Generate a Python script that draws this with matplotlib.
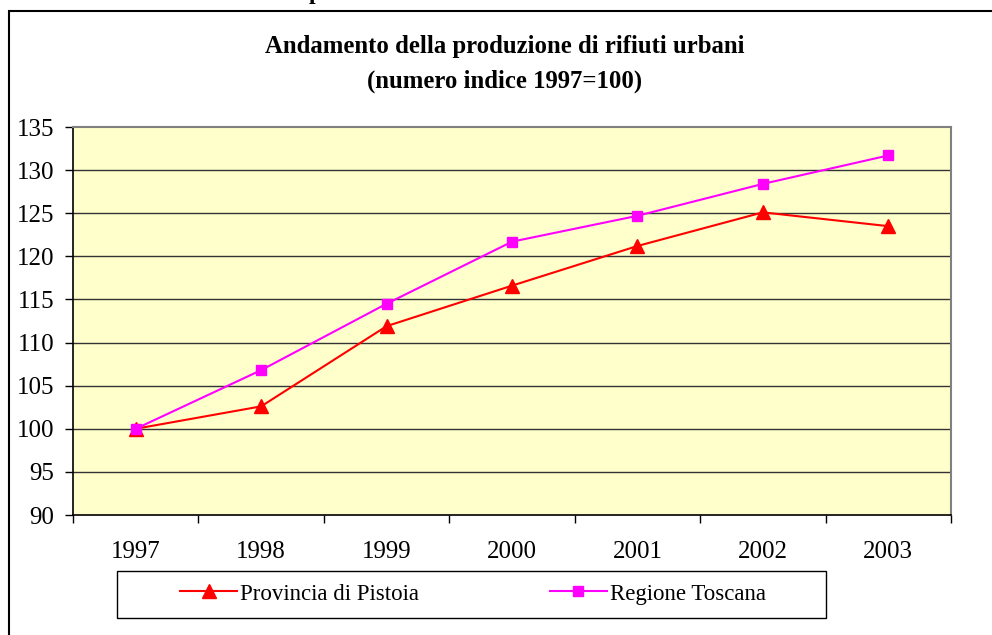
import matplotlib.pyplot as plt
from matplotlib.patches import Rectangle

anni = ["1997", "1998", "1999", "2000", "2001", "2002", "2003"]
pistoia = [100.0, 102.6, 111.9, 116.6, 121.2, 125.1, 123.5]
toscana = [100.0, 106.8, 114.5, 121.7, 124.7, 128.4, 131.7]
y_ticks = [90, 95, 100, 105, 110, 115, 120, 125, 130, 135]

plt.rcParams['font.family'] = ['Liberation Serif', 'DejaVu Serif']

W, H = 992, 635
fig = plt.figure(figsize=(W / 100, H / 100), dpi=100)
fig.patch.set_facecolor('white')

# cornice esterna (continua oltre i bordi destro e inferiore)
fig.patches.append(Rectangle((9 / W, -0.05), 1.1, 1 - 11 / H + 0.05,
                             transform=fig.transFigure, fill=False,
                             edgecolor='black', linewidth=1.5))

# frammento di testo tagliato in alto
fig.text(315 / W, 1 + 1 / H, "p", ha='center', va='baseline',
         fontsize=17, fontweight='bold')

fig.text(505 / W, 1 - 47 / H, "Andamento della produzione di rifiuti urbani",
         ha='center', va='center', fontsize=17.8, fontweight='bold')
fig.text(505 / W, 1 - 81 / H, "(numero indice 1997=100)",
         ha='center', va='center', fontsize=17.8, fontweight='bold')

ax = fig.add_axes([73 / W, 1 - 515 / H, (951 - 73) / W, (515 - 127) / H])
ax.set_facecolor('#FFFFCC')

x = list(range(len(anni)))
ax.plot(x, pistoia, color='#FF0000', linewidth=1.5, marker='^',
        markersize=10, label='Provincia di Pistoia', zorder=3)
ax.plot(x, toscana, color='#FF00FF', linewidth=1.5, marker='s',
        markersize=6.5, label='Regione Toscana', zorder=3)

ax.set_xlim(-0.5, len(anni) - 0.5)
ax.set_ylim(90, 135)
ax.set_yticks(y_ticks)
ax.set_yticklabels([str(v) for v in y_ticks], fontsize=18)
ax.set_xticks(x)
ax.set_xticklabels(anni, fontsize=18)
ax.set_xticks([i - 0.5 for i in range(len(anni) + 1)], minor=True)
ax.tick_params(axis='x', which='major', length=0, pad=19)
ax.tick_params(axis='x', which='minor', length=5.5, width=1, direction='out')
ax.tick_params(axis='y', length=5.5, width=1, direction='out', pad=8)

for v in y_ticks[1:-1]:
    ax.axhline(v, color='#333333', linewidth=1, zorder=1)

ax.spines['left'].set_color('black')
ax.spines['bottom'].set_color('black')
ax.spines['left'].set_linewidth(1.2)
ax.spines['bottom'].set_linewidth(1.2)
ax.spines['top'].set_color('#808080')
ax.spines['right'].set_color('#808080')
ax.spines['top'].set_linewidth(1.5)
ax.spines['right'].set_linewidth(1.5)

# legenda
fig.patches.append(Rectangle((117 / W, 1 - 618 / H), (826 - 117) / W, 47 / H,
                             transform=fig.transFigure, fill=False,
                             edgecolor='black', linewidth=1))
handles, labels = ax.get_legend_handles_labels()
fig.legend(handles, labels, loc='center', ncol=2, frameon=False,
           bbox_to_anchor=(473 / W, 1 - 594 / H), fontsize=16.5,
           handlelength=2.5, handletextpad=0.12, columnspacing=5.7)

fig.savefig("out.png", dpi=100)
